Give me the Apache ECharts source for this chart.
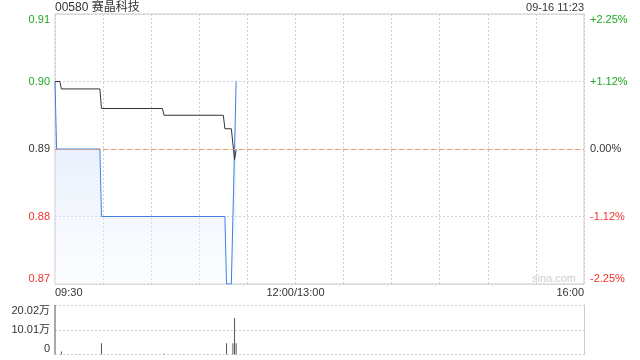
<!DOCTYPE html>
<html><head><meta charset="utf-8">
<script src="https://cdn.jsdelivr.net/npm/echarts@6/dist/echarts.min.js"></script>
<style>html,body{margin:0;padding:0;background:#fff}#c{width:640px;height:360px}</style>
</head><body><div id="c"></div>
<script>
const title = '00580 赛晶科技';
const stamp = '09-16 11:23';
const prevClose = 0.89;
const xTickLabels = ['09:30', '12:00/13:00', '16:00'];
const priceTimes = ['09:30','09:31','09:58','09:59','11:16','11:17','11:20','11:21','11:22','11:23'];
const prices =     [0.90,   0.89,   0.89,   0.88,   0.88,   0.87,   0.87,   0.88,   0.89,   0.90];
const avgTimes = ['09:30','09:33','09:34','09:58','09:59','10:37','10:38','11:15','11:16','11:20','11:22','11:23'];
const avgPrices = [0.900, 0.900, 0.8989, 0.8989, 0.8960, 0.8960, 0.8950, 0.8950, 0.8930, 0.8930, 0.8884, 0.8899];
const volTimes = ['09:30','09:34','09:45','09:59','10:10','10:25','10:38','10:50','11:05','11:17','11:21','11:22','11:23'];
const vols =     [200200, 12000,  1500,   45000,  1500,   1500,   3000,   1500,   1500,   45000,  45000,  148000, 45000];
const volMax = 200200;

function toIdx(t){
  const [h,m] = t.split(':').map(Number);
  let mins = h*60 + m - (9*60+30);
  if (h >= 13) mins -= 60;
  return mins;
}
const priceData = priceTimes.map((t,i)=>[toIdx(t), prices[i]]);
const avgData = avgTimes.map((t,i)=>[toIdx(t), avgPrices[i]]);
const volData = volTimes.map((t,i)=>[toIdx(t), vols[i]]);

const FONT = '"Liberation Sans", "Noto Sans CJK SC", sans-serif';
const GREEN = '#1fa81f', RED = '#f5302a', TXT = '#333';
const gridColor = '#d0d0d0';
function colorFor(v){ const d = Math.round((v - prevClose)*10000); return d > 0 ? GREEN : (d < 0 ? RED : TXT); }
const pctMax = (0.91 - prevClose) / prevClose * 100;

const chart = echarts.init(document.getElementById('c'), null, {renderer:'canvas'});
chart.setOption({
  animation: false,
  textStyle: {fontFamily: FONT},
  title: {text: title, left: 55, top: 2, padding: 0, textStyle: {fontSize: 12, fontWeight: 'normal', color: TXT, fontFamily: FONT}},
  graphic: [
    {type:'text', right: 56, top: 2, style:{text: stamp, font: '11px ' + FONT, fill: TXT}},
    {type:'text', left: 532, top: 273, style:{text: 'sina.com', font: '11px ' + FONT, fill: '#cfcfcf'}}
  ],
  grid: [
    {left: 55, right: 56, top: 14, height: 270, show: true, borderColor: '#cccccc', borderWidth: 1, containLabel: false},
    {left: 55, right: 56, top: 305, height: 49.5, containLabel: false}
  ],
  xAxis: [
    {type:'value', gridIndex:0, min:0, max:330, interval:30,
     axisLine:{show:false}, axisTick:{show:false},
     splitLine:{show:true, lineStyle:{color:gridColor, type:[2,2]}},
     axisLabel:{show:true, margin:3, fontSize:11, color:TXT, fontFamily:FONT,
       alignMinLabel:'left', alignMaxLabel:'right',
       formatter:function(v){ if(v===0) return xTickLabels[0]; if(v===150) return xTickLabels[1]; if(v===330) return xTickLabels[2]; return ''; }}},
    {type:'value', gridIndex:1, min:0, max:330, interval:30,
     axisLine:{show:false}, axisTick:{show:false}, splitLine:{show:false}, axisLabel:{show:false}}
  ],
  yAxis: [
    {type:'value', gridIndex:0, position:'left', min:0.87, max:0.91, interval:0.01,
     axisLine:{show:false}, axisTick:{show:false},
     splitLine:{show:true, lineStyle:{color:gridColor, type:[2,2]}},
     axisLabel:{margin:5, fontSize:11, fontFamily:FONT,
       verticalAlignMaxLabel:'top', verticalAlignMinLabel:'bottom',
       color:function(v){ return colorFor(Number(v)); },
       formatter:function(v){ return v.toFixed(2); }}},
    {type:'value', gridIndex:0, position:'right', min:-pctMax, max:pctMax, interval:pctMax/2,
     axisLine:{show:false}, axisTick:{show:false}, splitLine:{show:false},
     axisLabel:{margin:6, fontSize:11, fontFamily:FONT,
       verticalAlignMaxLabel:'top', verticalAlignMinLabel:'bottom',
       color:function(v){ v=Number(v); return v>0.001?GREEN:(v<-0.001?RED:TXT); },
       formatter:function(v){ const s = Math.abs(v)<0.001 ? '0.00' : v.toFixed(2); return (v>0.001?'+':'') + s + '%'; }}},
    {type:'value', gridIndex:1, position:'left', min:0, max:volMax, interval:volMax/2,
     axisLine:{show:false}, axisTick:{show:false},
     splitLine:{show:true, lineStyle:{color:gridColor, type:[2,2]}},
     axisLabel:{margin:5, fontSize:11, color:TXT, fontFamily:FONT,
       verticalAlignMaxLabel:'top', verticalAlignMinLabel:'bottom',
       formatter:function(v){ return v===0 ? '0' : (v/10000).toFixed(2) + '万'; }}},
    {type:'value', gridIndex:1, position:'right', min:0, max:volMax,
     axisLine:{show:true, lineStyle:{color:'#cccccc'}}, axisTick:{show:false}, splitLine:{show:false}, axisLabel:{show:false}}
  ],
  series: [
    {type:'line', xAxisIndex:0, yAxisIndex:0, data: priceData, symbol:'none', silent:true,
     lineStyle:{color:'#3f80e4', width:1},
     areaStyle:{color: new echarts.graphic.LinearGradient(0,0,0,1,[{offset:0,color:'rgba(195,214,247,0.8)'},{offset:1,color:'rgba(246,249,255,0.5)'}])},
     markLine:{silent:true, symbol:'none', label:{show:false},
       lineStyle:{color:'#f0905a', type:[4,4], width:1, opacity:1}, data:[{yAxis: prevClose}]}},
    {type:'line', xAxisIndex:0, yAxisIndex:0, data: avgData, symbol:'none', silent:true,
     lineStyle:{color:'#333333', width:1}},
    {type:'bar', xAxisIndex:1, yAxisIndex:2, data: volData, barWidth:1, silent:true,
     itemStyle:{color:'#555555'}}
  ]
});
</script></body></html>
